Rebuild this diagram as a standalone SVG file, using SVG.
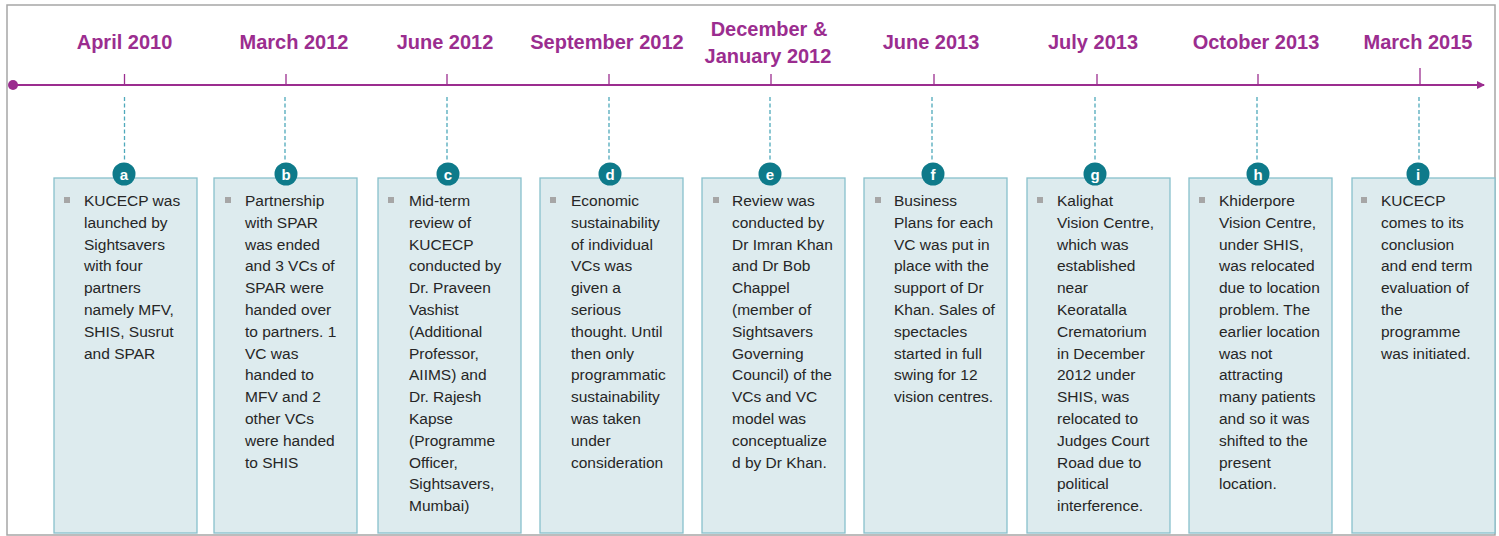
<svg xmlns="http://www.w3.org/2000/svg" width="1499" height="536" viewBox="0 0 1499 536">
<defs>
<style>
.lbl{font-family:"Liberation Sans",Arial,sans-serif;font-weight:bold;font-size:20px;fill:#9B2D8F;text-anchor:middle}
.box{fill:#DDEBEE;stroke:#88C0CC;stroke-width:1.3}
.txt{font-family:"Liberation Sans",Arial,sans-serif;font-size:15.5px;fill:#262626}
.bul{fill:#A6A6A6}
.cir{fill:#0E7A8A}
.ltr{font-family:"Liberation Sans",Arial,sans-serif;font-weight:bold;font-size:15px;fill:#ffffff;text-anchor:middle}
.dash{stroke:#4FA9BB;stroke-width:1.3;stroke-dasharray:4 2.5;fill:none}
.tick{stroke:#9B2D8F;stroke-width:1.3}
</style>
<marker id="arr" markerWidth="8" markerHeight="8" refX="7" refY="4" orient="auto" markerUnits="userSpaceOnUse">
<path d="M0,0 L8,4 L0,8 Z" fill="#9B2D8F"/>
</marker>
</defs>
<rect x="7" y="5" width="1488" height="530" fill="#ffffff" stroke="#A6A6A6" stroke-width="1.5"/>

<g id="connectors">
<line x1="13" y1="85" x2="1484" y2="85" stroke="#9B2D8F" stroke-width="2" marker-end="url(#arr)"/>
<circle cx="13" cy="85" r="5" fill="#9B2D8F"/>
<line class="tick" x1="124.5" y1="74" x2="124.5" y2="85"/>
<line class="tick" x1="286" y1="74" x2="286" y2="85"/>
<line class="tick" x1="447" y1="74" x2="447" y2="85"/>
<line class="tick" x1="609" y1="74" x2="609" y2="85"/>
<line class="tick" x1="771" y1="74" x2="771" y2="85"/>
<line class="tick" x1="934" y1="74" x2="934" y2="85"/>
<line class="tick" x1="1097" y1="74" x2="1097" y2="85"/>
<line class="tick" x1="1258" y1="74" x2="1258" y2="85"/>
<line class="tick" x1="1420" y1="68" x2="1420" y2="85"/>
<line class="dash" x1="124.5" y1="97" x2="124.5" y2="162"/>
<line class="dash" x1="285" y1="97" x2="285" y2="162"/>
<line class="dash" x1="447" y1="97" x2="447" y2="162"/>
<line class="dash" x1="609" y1="97" x2="609" y2="162"/>
<line class="dash" x1="770" y1="97" x2="770" y2="162"/>
<line class="dash" x1="932" y1="97" x2="932" y2="162"/>
<line class="dash" x1="1095" y1="97" x2="1095" y2="162"/>
<line class="dash" x1="1257" y1="97" x2="1257" y2="162"/>
<line class="dash" x1="1419" y1="97" x2="1419" y2="162"/>
</g>

<g id="node-a">
<text class="lbl" x="124.5" y="49">April 2010</text>
<rect class="box" x="54" y="178" width="143" height="355"/>
<circle class="cir" cx="124" cy="174" r="11.5"/>
<text class="ltr" x="124" y="179.5">a</text>
<rect class="bul" x="64" y="197" width="6" height="6"/>
<text class="txt" x="84" y="206"><tspan x="84">KUCECP was</tspan><tspan x="84" dy="21.8">launched by</tspan><tspan x="84" dy="21.8">Sightsavers</tspan><tspan x="84" dy="21.8">with four</tspan><tspan x="84" dy="21.8">partners</tspan><tspan x="84" dy="21.8">namely MFV,</tspan><tspan x="84" dy="21.8">SHIS, Susrut</tspan><tspan x="84" dy="21.8">and SPAR</tspan></text>
</g>

<g id="node-b">
<text class="lbl" x="294" y="49">March 2012</text>
<rect class="box" x="214" y="178" width="143" height="355"/>
<circle class="cir" cx="286" cy="174" r="11.5"/>
<text class="ltr" x="286" y="179.5">b</text>
<rect class="bul" x="225" y="197" width="6" height="6"/>
<text class="txt" x="245" y="206"><tspan x="245">Partnership</tspan><tspan x="245" dy="21.8">with SPAR</tspan><tspan x="245" dy="21.8">was ended</tspan><tspan x="245" dy="21.8">and 3 VCs of</tspan><tspan x="245" dy="21.8">SPAR were</tspan><tspan x="245" dy="21.8">handed over</tspan><tspan x="245" dy="21.8">to partners. 1</tspan><tspan x="245" dy="21.8">VC was</tspan><tspan x="245" dy="21.8">handed to</tspan><tspan x="245" dy="21.8">MFV and 2</tspan><tspan x="245" dy="21.8">other VCs</tspan><tspan x="245" dy="21.8">were handed</tspan><tspan x="245" dy="21.8">to SHIS</tspan></text>
</g>

<g id="node-c">
<text class="lbl" x="445" y="49">June 2012</text>
<rect class="box" x="378" y="178" width="143" height="355"/>
<circle class="cir" cx="448" cy="174" r="11.5"/>
<text class="ltr" x="448" y="179.5">c</text>
<rect class="bul" x="388" y="197" width="6" height="6"/>
<text class="txt" x="409" y="206"><tspan x="409">Mid-term</tspan><tspan x="409" dy="21.8">review of</tspan><tspan x="409" dy="21.8">KUCECP</tspan><tspan x="409" dy="21.8">conducted by</tspan><tspan x="409" dy="21.8">Dr. Praveen</tspan><tspan x="409" dy="21.8">Vashist</tspan><tspan x="409" dy="21.8">(Additional</tspan><tspan x="409" dy="21.8">Professor,</tspan><tspan x="409" dy="21.8">AIIMS) and</tspan><tspan x="409" dy="21.8">Dr. Rajesh</tspan><tspan x="409" dy="21.8">Kapse</tspan><tspan x="409" dy="21.8">(Programme</tspan><tspan x="409" dy="21.8">Officer,</tspan><tspan x="409" dy="21.8">Sightsavers,</tspan><tspan x="409" dy="21.8">Mumbai)</tspan></text>
</g>

<g id="node-d">
<text class="lbl" x="607" y="49">September 2012</text>
<rect class="box" x="540" y="178" width="143" height="355"/>
<circle class="cir" cx="610" cy="174" r="11.5"/>
<text class="ltr" x="610" y="179.5">d</text>
<rect class="bul" x="550" y="197" width="6" height="6"/>
<text class="txt" x="571" y="206"><tspan x="571">Economic</tspan><tspan x="571" dy="21.8">sustainability</tspan><tspan x="571" dy="21.8">of individual</tspan><tspan x="571" dy="21.8">VCs was</tspan><tspan x="571" dy="21.8">given a</tspan><tspan x="571" dy="21.8">serious</tspan><tspan x="571" dy="21.8">thought. Until</tspan><tspan x="571" dy="21.8">then only</tspan><tspan x="571" dy="21.8">programmatic</tspan><tspan x="571" dy="21.8">sustainability</tspan><tspan x="571" dy="21.8">was taken</tspan><tspan x="571" dy="21.8">under</tspan><tspan x="571" dy="21.8">consideration</tspan></text>
</g>

<g id="node-e">
<text class="lbl" x="769" y="36">December &amp;</text>
<text class="lbl" x="768" y="63">January 2012</text>
<rect class="box" x="702" y="178" width="143" height="355"/>
<circle class="cir" cx="770" cy="174" r="11.5"/>
<text class="ltr" x="770" y="179.5">e</text>
<rect class="bul" x="713" y="197" width="6" height="6"/>
<text class="txt" x="732" y="206"><tspan x="732">Review was</tspan><tspan x="732" dy="21.8">conducted by</tspan><tspan x="732" dy="21.8">Dr Imran Khan</tspan><tspan x="732" dy="21.8">and Dr Bob</tspan><tspan x="732" dy="21.8">Chappel</tspan><tspan x="732" dy="21.8">(member of</tspan><tspan x="732" dy="21.8">Sightsavers</tspan><tspan x="732" dy="21.8">Governing</tspan><tspan x="732" dy="21.8">Council) of the</tspan><tspan x="732" dy="21.8">VCs and VC</tspan><tspan x="732" dy="21.8">model was</tspan><tspan x="732" dy="21.8">conceptualize</tspan><tspan x="732" dy="21.8">d by Dr Khan.</tspan></text>
</g>

<g id="node-f">
<text class="lbl" x="931" y="49">June 2013</text>
<rect class="box" x="864" y="178" width="143" height="355"/>
<circle class="cir" cx="933" cy="174" r="11.5"/>
<text class="ltr" x="933" y="179.5">f</text>
<rect class="bul" x="875" y="197" width="6" height="6"/>
<text class="txt" x="894" y="206"><tspan x="894">Business</tspan><tspan x="894" dy="21.8">Plans for each</tspan><tspan x="894" dy="21.8">VC was put in</tspan><tspan x="894" dy="21.8">place with the</tspan><tspan x="894" dy="21.8">support of Dr</tspan><tspan x="894" dy="21.8">Khan. Sales of</tspan><tspan x="894" dy="21.8">spectacles</tspan><tspan x="894" dy="21.8">started in full</tspan><tspan x="894" dy="21.8">swing for 12</tspan><tspan x="894" dy="21.8">vision centres.</tspan></text>
</g>

<g id="node-g">
<text class="lbl" x="1093" y="49">July 2013</text>
<rect class="box" x="1027" y="178" width="143" height="355"/>
<circle class="cir" cx="1095" cy="174" r="11.5"/>
<text class="ltr" x="1095" y="179.5">g</text>
<rect class="bul" x="1037" y="197" width="6" height="6"/>
<text class="txt" x="1057" y="206"><tspan x="1057">Kalighat</tspan><tspan x="1057" dy="21.8">Vision Centre,</tspan><tspan x="1057" dy="21.8">which was</tspan><tspan x="1057" dy="21.8">established</tspan><tspan x="1057" dy="21.8">near</tspan><tspan x="1057" dy="21.8">Keoratalla</tspan><tspan x="1057" dy="21.8">Crematorium</tspan><tspan x="1057" dy="21.8">in December</tspan><tspan x="1057" dy="21.8">2012 under</tspan><tspan x="1057" dy="21.8">SHIS, was</tspan><tspan x="1057" dy="21.8">relocated to</tspan><tspan x="1057" dy="21.8">Judges Court</tspan><tspan x="1057" dy="21.8">Road due to</tspan><tspan x="1057" dy="21.8">political</tspan><tspan x="1057" dy="21.8">interference.</tspan></text>
</g>

<g id="node-h">
<text class="lbl" x="1256" y="49">October 2013</text>
<rect class="box" x="1189" y="178" width="143" height="355"/>
<circle class="cir" cx="1258" cy="174" r="11.5"/>
<text class="ltr" x="1258" y="179.5">h</text>
<rect class="bul" x="1199" y="197" width="6" height="6"/>
<text class="txt" x="1219" y="206"><tspan x="1219">Khiderpore</tspan><tspan x="1219" dy="21.8">Vision Centre,</tspan><tspan x="1219" dy="21.8">under SHIS,</tspan><tspan x="1219" dy="21.8">was relocated</tspan><tspan x="1219" dy="21.8">due to location</tspan><tspan x="1219" dy="21.8">problem. The</tspan><tspan x="1219" dy="21.8">earlier location</tspan><tspan x="1219" dy="21.8">was not</tspan><tspan x="1219" dy="21.8">attracting</tspan><tspan x="1219" dy="21.8">many patients</tspan><tspan x="1219" dy="21.8">and so it was</tspan><tspan x="1219" dy="21.8">shifted to the</tspan><tspan x="1219" dy="21.8">present</tspan><tspan x="1219" dy="21.8">location.</tspan></text>
</g>

<g id="node-i">
<text class="lbl" x="1418" y="49">March 2015</text>
<rect class="box" x="1352" y="178" width="143" height="355"/>
<circle class="cir" cx="1418" cy="174" r="11.5"/>
<text class="ltr" x="1418" y="179.5">i</text>
<rect class="bul" x="1361" y="197" width="6" height="6"/>
<text class="txt" x="1381" y="206"><tspan x="1381">KUCECP</tspan><tspan x="1381" dy="21.8">comes to its</tspan><tspan x="1381" dy="21.8">conclusion</tspan><tspan x="1381" dy="21.8">and end term</tspan><tspan x="1381" dy="21.8">evaluation of</tspan><tspan x="1381" dy="21.8">the</tspan><tspan x="1381" dy="21.8">programme</tspan><tspan x="1381" dy="21.8">was initiated.</tspan></text>
</g>
</svg>
